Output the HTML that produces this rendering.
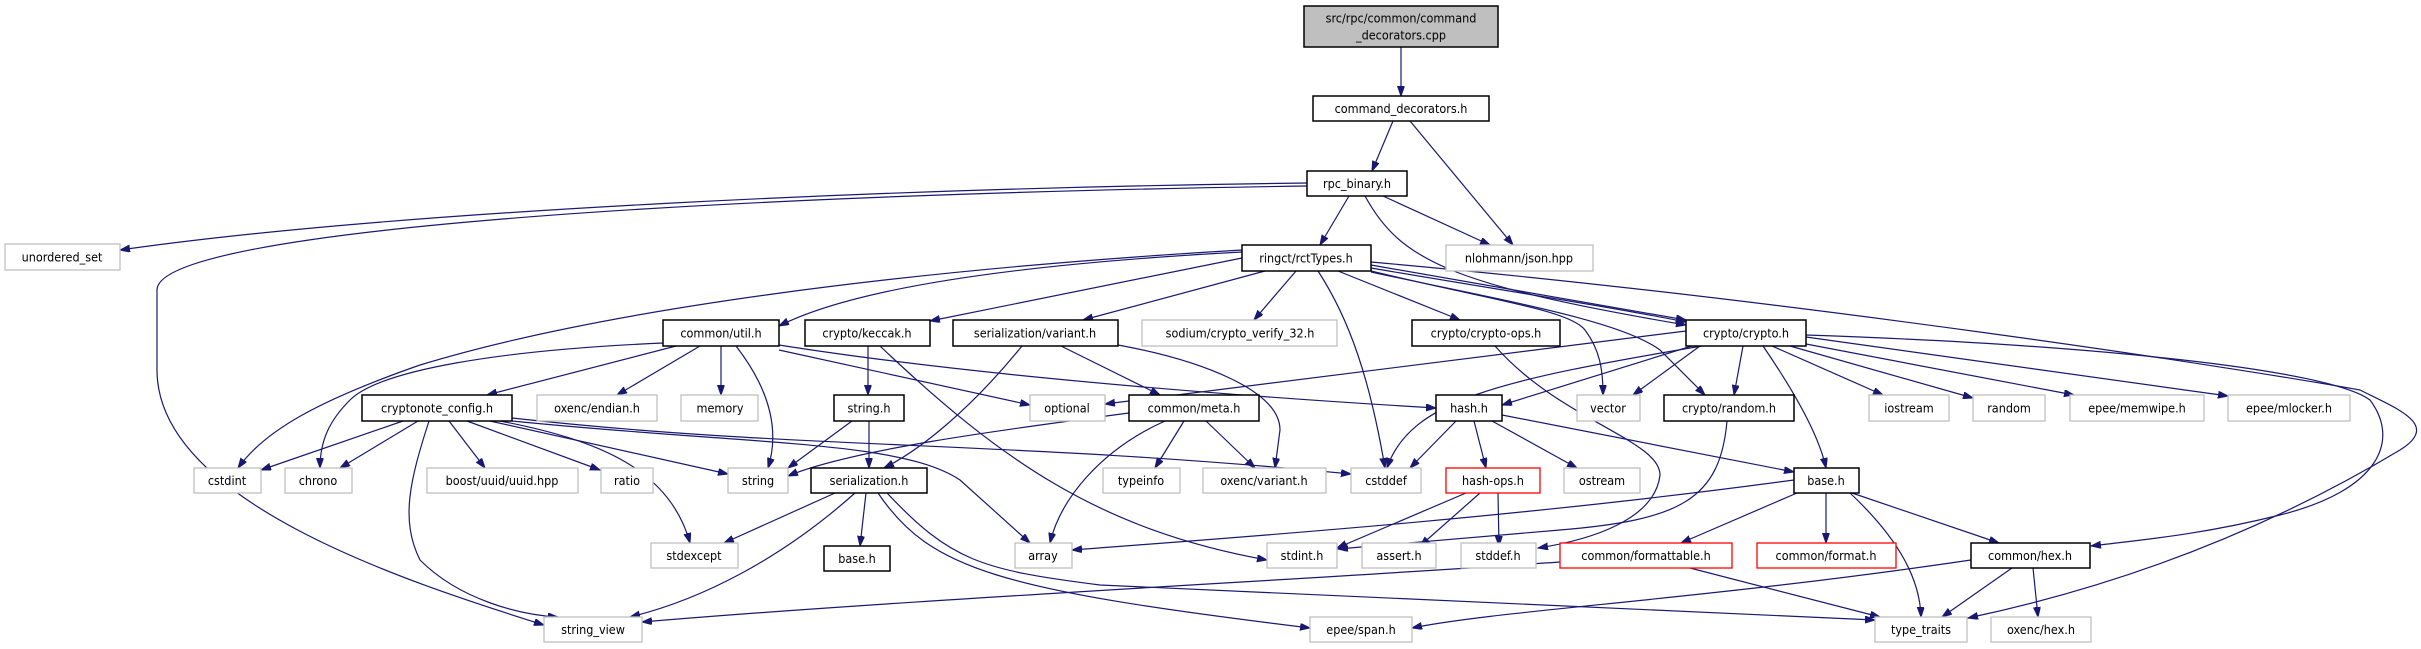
<!DOCTYPE html>
<html><head><meta charset="utf-8"><style>
html,body{margin:0;padding:0;background:#fff;}
svg{display:block}
text{font-family:"DejaVu Sans Condensed","DejaVu Sans","Liberation Sans",sans-serif;font-size:12.5px;fill:#000;text-anchor:middle;dominant-baseline:central}
.e{fill:none;stroke:#191970;stroke-width:1.2;marker-end:url(#a)}
.g{fill:#fff;stroke:#bfbfbf;stroke-width:1.3}
.b{fill:#fff;stroke:#000;stroke-width:1.5}
.r{fill:#fff;stroke:#ff0000;stroke-width:1.3}
</style></head><body>
<svg width="2421" height="649" viewBox="0 0 2421 649" xmlns="http://www.w3.org/2000/svg">
<defs><marker id="a" markerUnits="userSpaceOnUse" markerWidth="11" markerHeight="8" refX="10" refY="3.5" orient="auto"><path d="M0,0 L10,3.5 L0,7 z" fill="#191970" stroke="#191970"/></marker></defs>
<g>
<path class="e" d="M1401,47 L1401,96"/>
<path class="e" d="M1393,121 L1372,171"/>
<path class="e" d="M1410,121 L1513,245"/>
<path class="e" d="M1383,196 L1490,245"/>
<path class="e" d="M1349,196 L1320,245"/>
<path class="e" d="M1307,183 C900,188 400,210 120,250"/>
<path class="e" d="M1307,186 C700,195 157,230 157,290 L157,370 C157,500 400,580 544,625"/>
<path class="e" d="M1365,196 C1400,260 1450,285 1686,325"/>
<path class="e" d="M1242,252 C1000,265 850,290 779,326"/>
<path class="e" d="M1242,258 L930,321"/>
<path class="e" d="M1265,271 L1083,320"/>
<path class="e" d="M1296,271 L1254,320"/>
<path class="e" d="M1318,271 C1350,320 1370,380 1385,468"/>
<path class="e" d="M1338,271 L1460,320"/>
<path class="e" d="M1371,265 L1686,320"/>
<path class="e" d="M1371,268 C1500,290 1600,305 1686,322"/>
<path class="e" d="M1371,271 C1490,300 1570,310 1585,330 C1600,350 1603,370 1603,395"/>
<path class="e" d="M1371,272 C1500,300 1620,320 1660,350 L1705,395"/>
<path class="e" d="M1371,262 C1800,300 2250,370 2360,390 C2400,410 2440,425 2400,450 C2250,540 2100,590 1968,618"/>
<path class="e" d="M1806,335 C2100,345 2330,370 2370,400 C2400,440 2380,490 2280,515 C2200,535 2140,540 2091,546"/>
<path class="e" d="M1242,250 C900,270 600,310 420,365 C320,400 265,430 238,468"/>
<path class="e" d="M676,346 L487,395"/>
<path class="e" d="M700,346 L617,395"/>
<path class="e" d="M721,346 L721,395"/>
<path class="e" d="M736,346 C770,390 780,430 768,468"/>
<path class="e" d="M663,343 C500,350 380,370 350,400 C330,420 320,440 320,468"/>
<path class="e" d="M779,350 L1030,405"/>
<path class="e" d="M779,345 C1000,380 1300,400 1436,408"/>
<path class="e" d="M868,346 L868,395"/>
<path class="e" d="M880,346 C1000,460 1100,530 1267,560"/>
<path class="e" d="M1022,346 C970,410 920,450 884,468"/>
<path class="e" d="M1061,346 L1160,395"/>
<path class="e" d="M1118,345 C1200,360 1280,390 1280,430 L1275,468"/>
<path class="e" d="M1495,346 C1560,420 1660,440 1660,475 C1655,520 1590,540 1538,548"/>
<path class="e" d="M1686,331 L1105,404"/>
<path class="e" d="M1702,346 C1500,380 1410,400 1387,468"/>
<path class="e" d="M1700,346 L1633,395"/>
<path class="e" d="M1743,346 L1734,395"/>
<path class="e" d="M1695,345 L1502,405"/>
<path class="e" d="M1763,346 C1800,400 1820,440 1826,468"/>
<path class="e" d="M1772,346 L1883,395"/>
<path class="e" d="M1790,346 L1973,398"/>
<path class="e" d="M1806,344 L2074,395"/>
<path class="e" d="M1806,337 L2228,396"/>
<path class="e" d="M403,421 L261,470"/>
<path class="e" d="M418,421 L340,468"/>
<path class="e" d="M429,421 C410,480 400,520 420,560 C460,600 520,615 558,617"/>
<path class="e" d="M449,421 L485,468"/>
<path class="e" d="M467,421 L600,470"/>
<path class="e" d="M490,421 L728,474"/>
<path class="e" d="M500,421 C600,440 670,470 690,543"/>
<path class="e" d="M512,421 C750,445 900,440 960,480 L1030,543"/>
<path class="e" d="M512,418 C800,450 1000,440 1351,474"/>
<path class="e" d="M852,421 L788,468"/>
<path class="e" d="M869,421 L869,468"/>
<path class="e" d="M1129,413 C1000,430 850,450 788,476"/>
<path class="e" d="M1165,421 C1100,450 1060,500 1050,543"/>
<path class="e" d="M1184,421 L1155,468"/>
<path class="e" d="M1206,421 L1255,468"/>
<path class="e" d="M1456,421 L1410,468"/>
<path class="e" d="M1474,421 L1486,468"/>
<path class="e" d="M1492,421 L1577,468"/>
<path class="e" d="M1502,415 L1794,472"/>
<path class="e" d="M835,493 L724,543"/>
<path class="e" d="M866,493 L860,546"/>
<path class="e" d="M855,493 C780,560 700,600 630,617"/>
<path class="e" d="M878,493 C930,570 1000,590 1310,628"/>
<path class="e" d="M887,493 C950,560 980,570 1100,585 C1400,600 1700,612 1875,620"/>
<path class="e" d="M1466,493 L1337,548"/>
<path class="e" d="M1480,493 L1420,546"/>
<path class="e" d="M1498,493 L1499,546"/>
<path class="e" d="M1727,421 C1720,500 1680,520 1560,530 C1450,540 1380,545 1338,549"/>
<path class="e" d="M1794,480 C1500,520 1200,540 1072,550"/>
<path class="e" d="M1797,493 L1681,543"/>
<path class="e" d="M1826,493 L1826,543"/>
<path class="e" d="M1852,493 L1999,543"/>
<path class="e" d="M1850,493 C1900,540 1920,580 1921,617"/>
<path class="e" d="M1560,562 C1300,580 900,600 642,622"/>
<path class="e" d="M1690,568 L1880,617"/>
<path class="e" d="M1971,560 C1700,600 1500,610 1412,628"/>
<path class="e" d="M2012,568 L1942,617"/>
<path class="e" d="M2033,568 L2038,617"/>
</g>
<g>
<rect x="1304" y="6" width="194" height="41" fill="#bfbfbf" stroke="#000" stroke-width="1.5"/>
<text x="1401" y="18">src/rpc/common/command</text><text x="1401" y="35">_decorators.cpp</text>
<rect class="b" x="1313" y="96" width="176" height="25"/><text x="1401" y="108.5">command_decorators.h</text>
<rect class="b" x="1307" y="171" width="100" height="25"/><text x="1357" y="183.5">rpc_binary.h</text>
<rect class="b" x="1242" y="245" width="129" height="26"/><text x="1306" y="258">ringct/rctTypes.h</text>
<rect class="g" x="1446" y="245" width="147" height="26"/><text x="1519" y="258">nlohmann/json.hpp</text>
<rect class="g" x="5" y="244" width="115" height="26"/><text x="62" y="257">unordered_set</text>

<rect class="b" x="663" y="320" width="116" height="26"/><text x="721" y="333">common/util.h</text>
<rect class="b" x="805" y="320" width="125" height="26"/><text x="867" y="333">crypto/keccak.h</text>
<rect class="b" x="953" y="320" width="165" height="26"/><text x="1035" y="333">serialization/variant.h</text>
<rect class="g" x="1142" y="320" width="195" height="26"/><text x="1240" y="333">sodium/crypto_verify_32.h</text>
<rect class="b" x="1412" y="320" width="148" height="26"/><text x="1486" y="333">crypto/crypto-ops.h</text>
<rect class="b" x="1686" y="320" width="120" height="26"/><text x="1746" y="333">crypto/crypto.h</text>

<rect class="b" x="362" y="395" width="150" height="26"/><text x="437" y="408">cryptonote_config.h</text>
<rect class="g" x="537" y="395" width="120" height="26"/><text x="597" y="408">oxenc/endian.h</text>
<rect class="g" x="681" y="395" width="77" height="26"/><text x="720" y="408">memory</text>
<rect class="b" x="834" y="395" width="70" height="26"/><text x="869" y="408">string.h</text>
<rect class="g" x="1030" y="395" width="75" height="26"/><text x="1067" y="408">optional</text>
<rect class="b" x="1129" y="395" width="130" height="26"/><text x="1194" y="408">common/meta.h</text>
<rect class="b" x="1436" y="395" width="66" height="26"/><text x="1469" y="408">hash.h</text>
<rect class="g" x="1577" y="395" width="63" height="26"/><text x="1608" y="408">vector</text>
<rect class="b" x="1664" y="395" width="130" height="26"/><text x="1729" y="408">crypto/random.h</text>
<rect class="g" x="1869" y="395" width="80" height="26"/><text x="1909" y="408">iostream</text>
<rect class="g" x="1973" y="395" width="72" height="26"/><text x="2009" y="408">random</text>
<rect class="g" x="2070" y="395" width="134" height="26"/><text x="2137" y="408">epee/memwipe.h</text>
<rect class="g" x="2228" y="395" width="122" height="26"/><text x="2289" y="408">epee/mlocker.h</text>

<rect class="g" x="194" y="468" width="67" height="25"/><text x="227" y="480.5">cstdint</text>
<rect class="g" x="285" y="468" width="67" height="25"/><text x="318" y="480.5">chrono</text>
<rect class="g" x="427" y="468" width="151" height="25"/><text x="502" y="480.5">boost/uuid/uuid.hpp</text>
<rect class="g" x="601" y="468" width="52" height="25"/><text x="627" y="480.5">ratio</text>
<rect class="g" x="728" y="468" width="60" height="25"/><text x="758" y="480.5">string</text>
<rect class="b" x="811" y="468" width="116" height="25"/><text x="869" y="480.5">serialization.h</text>
<rect class="g" x="1103" y="468" width="77" height="25"/><text x="1141" y="480.5">typeinfo</text>
<rect class="g" x="1203" y="468" width="123" height="25"/><text x="1264" y="480.5">oxenc/variant.h</text>
<rect class="g" x="1351" y="468" width="70" height="25"/><text x="1386" y="480.5">cstddef</text>
<rect class="r" x="1446" y="468" width="94" height="25"/><text x="1493" y="480.5">hash-ops.h</text>
<rect class="g" x="1564" y="468" width="76" height="25"/><text x="1602" y="480.5">ostream</text>
<rect class="b" x="1794" y="468" width="65" height="25"/><text x="1826" y="480.5">base.h</text>

<rect class="g" x="651" y="543" width="87" height="25"/><text x="694" y="555.5">stdexcept</text>
<rect class="b" x="824" y="546" width="66" height="25"/><text x="857" y="558.5">base.h</text>
<rect class="g" x="1015" y="543" width="57" height="25"/><text x="1043" y="555.5">array</text>
<rect class="g" x="1267" y="543" width="70" height="25"/><text x="1302" y="555.5">stdint.h</text>
<rect class="g" x="1362" y="543" width="74" height="25"/><text x="1399" y="555.5">assert.h</text>
<rect class="g" x="1461" y="543" width="75" height="25"/><text x="1498" y="555.5">stddef.h</text>
<rect class="r" x="1560" y="543" width="172" height="25"/><text x="1646" y="555.5">common/formattable.h</text>
<rect class="r" x="1757" y="543" width="139" height="25"/><text x="1826" y="555.5">common/format.h</text>
<rect class="b" x="1971" y="543" width="119" height="25"/><text x="2030" y="555.5">common/hex.h</text>

<rect class="g" x="544" y="617" width="98" height="25"/><text x="593" y="629.5">string_view</text>
<rect class="g" x="1310" y="617" width="102" height="25"/><text x="1361" y="629.5">epee/span.h</text>
<rect class="g" x="1875" y="617" width="92" height="25"/><text x="1921" y="629.5">type_traits</text>
<rect class="g" x="1991" y="617" width="100" height="25"/><text x="2041" y="629.5">oxenc/hex.h</text>
</g>
</svg>
</body></html>
